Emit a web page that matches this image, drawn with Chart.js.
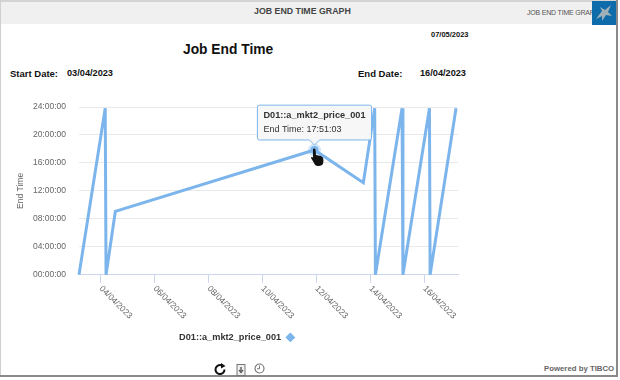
<!DOCTYPE html>
<html>
<head>
<meta charset="utf-8">
<title>Job End Time Graph</title>
<script src="https://cdn.jsdelivr.net/npm/chart.js@4/dist/chart.umd.min.js"></script>
<style>
html, body { margin: 0; padding: 0; background: #fff; overflow: hidden; }
body { width: 620px; height: 380px; position: relative; font-family: "Liberation Sans", Arial, sans-serif; color: #111; }
.t { position: absolute; white-space: nowrap; line-height: 1; }
.b { font-weight: bold; }
#header { position: absolute; left: 1px; top: 2px; width: 615px; height: 22px; background: #f0f0f0; }
#frameTop { position: absolute; left: 0; top: 0; width: 617px; height: 2px; background: #d4d4d4; }
#frameLeft { position: absolute; left: 0; top: 0; width: 1px; height: 377px; background: #cfcfcf; }
#frameRight { position: absolute; left: 616px; top: 0; width: 2px; height: 377px; background: #8a8a8a; }
#frameBottom { position: absolute; left: 0; top: 375px; width: 618px; height: 2px; background: #8a8a8a; }
#endTimeChart { position: absolute; left: 0; top: 0; }
svg { position: absolute; }
</style>
</head>
<body>
<div id="header"></div>
<div id="frameTop"></div>
<div id="frameLeft"></div>
<div id="frameRight"></div>
<div id="frameBottom"></div>

<div class="t b" style="left:254px;top:7px;font-size:8.8px;color:#444">JOB END TIME GRAPH</div>
<div class="t" style="left:527px;top:9px;font-size:7px;color:#555;letter-spacing:-0.2px">JOB END TIME GRAPH</div>
<svg style="left:592px;top:1px" width="24" height="24" viewBox="0 0 24 24">
	<rect width="24" height="24" fill="#0f6cab"/>
	<path d="M4 18 L10 10 L8 6 L13 9 L19 4 L16 11 L20 15 L14 14 L10 20 L10 15 Z" fill="#9fb0b8"/>
</svg>

<div class="t b" style="left:431px;top:31px;font-size:7.5px">07/05/2023</div>
<div class="t b" style="left:183px;top:43px;font-size:13.8px">Job End Time</div>
<div class="t b" style="left:10px;top:69px;font-size:9.5px">Start Date:</div>
<div class="t b" style="left:67px;top:69px;font-size:9.2px">03/04/2023</div>
<div class="t b" style="left:358px;top:69px;font-size:9.5px">End Date:</div>
<div class="t b" style="left:420px;top:69px;font-size:9.2px">16/04/2023</div>
<div class="t b" style="left:544px;top:365px;font-size:7.8px;color:#666">Powered by TIBCO</div>

<canvas id="endTimeChart" width="474" height="352"></canvas>

<svg style="left:213px;top:363px" width="14" height="13" viewBox="0 0 14 13">
	<path d="M11.5 6.5 A4.5 4.5 0 1 1 9.5 2.8" fill="none" stroke="#111" stroke-width="2"/>
	<path d="M8 0 L12.5 3 L8 5.5 Z" fill="#111"/>
</svg>
<svg style="left:236px;top:364px" width="10" height="12" viewBox="0 0 10 12">
	<rect x="1" y="0.5" width="8" height="11" fill="#eee" stroke="#777"/>
	<path d="M5 3 V7 M3 6 L5 8.5 L7 6" fill="none" stroke="#444" stroke-width="1.2"/>
</svg>
<svg style="left:254px;top:363px" width="11" height="11" viewBox="0 0 11 11">
	<circle cx="5.5" cy="5.5" r="4.5" fill="#fff" stroke="#777" stroke-width="1.2"/>
	<path d="M5.5 2.5 V5.8 H3" fill="none" stroke="#777"/>
</svg>
<svg style="left:310px;top:148px;z-index:5" width="15" height="19" viewBox="0 0 15 19">
	<path d="M3 1 Q4.5 0 5.5 1.5 L6 7 L11 8 Q13.5 9 13.5 12 L13 16 Q11 18.5 8 18 Q5 18 4 15 L1 10 Q1 8.5 3 9.5 Z" fill="#111"/>
</svg>

<script>
const seriesName = "D01::a_mkt2_price_001";
const endDates = ["2023-04-03T04:40", "2023-04-04T04:00", "2023-04-04T04:45", "2023-04-04T13:00", "2023-04-11T22:15", "2023-04-13T17:45", "2023-04-14T03:50", "2023-04-14T04:30", "2023-04-15T04:12", "2023-04-15T05:00", "2023-04-16T04:35", "2023-04-16T05:10", "2023-04-17T04:15"];
const endTimes = ["00:00:00", "23:50:00", "00:00:00", "09:04:00", "17:51:03", "13:10:00", "23:50:00", "00:00:00", "23:50:00", "00:00:00", "23:50:00", "00:00:00", "23:50:00"];
const xTickDates = ["2023-04-04", "2023-04-06", "2023-04-08", "2023-04-10", "2023-04-12", "2023-04-14", "2023-04-16"];
const yTickHours = [0, 4, 8, 12, 16, 20, 24];
const xAxisEnd = "2023-04-17T06:00";
const hoveredIndex = 4;

const toMs = (s) => Date.parse(s + (s.length > 10 ? ":00Z" : "T00:00:00Z"));
const toSeconds = (s) => {
	const p = s.split(":").map(Number);
	return p[0] * 3600 + p[1] * 60 + p[2];
};
const pad = (n) => String(n).padStart(2, "0");
const dateLabel = (ms) => {
	const d = new Date(ms);
	return `${pad(d.getUTCDate())}/${pad(d.getUTCMonth() + 1)}/${d.getUTCFullYear()}`;
};
const lineColor = "#7cb5ec";

const chart = new Chart(document.getElementById("endTimeChart"), {
	type: "line",
	data: {
		datasets: [{
			label: seriesName,
			data: endDates.map((d, i) => ({ x: toMs(d), y: toSeconds(endTimes[i]) })),
			borderColor: lineColor,
			backgroundColor: lineColor,
			borderWidth: 3,
			tension: 0,
			clip: false,
			pointRadius: 0,
			pointHoverRadius: 4,
			pointHoverBackgroundColor: lineColor,
			pointHoverBorderColor: "rgba(124,181,236,0.35)",
			pointHoverBorderWidth: 5
		}]
	},
	options: {
		responsive: false,
		maintainAspectRatio: false,
		animation: false,
		events: [],
		layout: { padding: { left: 16, top: 107, right: 16, bottom: 0 } },
		scales: {
			x: {
				type: "linear",
				min: toMs(endDates[0]),
				max: toMs(xAxisEnd),
				afterDataLimits: (scale) => {
					scale._getXAxisLabelAlignment = () => "left";
				},
				afterBuildTicks: (scale) => {
					scale.ticks = xTickDates.map((d) => ({ value: toMs(d) }));
				},
				afterFit: (scale) => { scale.height = 49; },
				border: { color: "#ccd6eb", width: 1 },
				grid: { drawOnChartArea: false, drawTicks: true, tickLength: 8, tickColor: "#ccd6eb" },
				ticks: {
					autoSkip: false,
					minRotation: -45,
					maxRotation: -45,
					padding: 1,
					color: "#666",
					font: { family: "Liberation Sans", size: 8.5 },
					callback: (v) => dateLabel(v)
				}
			},
			y: {
				min: 0,
				max: 86400,
				afterBuildTicks: (scale) => {
					scale.ticks = yTickHours.map((h) => ({ value: h * 3600 }));
				},
				afterFit: (scale) => { scale.width = 63; },
				border: { display: false },
				grid: { color: "#e9e9e9", drawTicks: false },
				title: {
					display: true,
					text: "End Time",
					color: "#666",
					font: { family: "Liberation Sans", size: 8.5 },
					padding: 0
				},
				ticks: {
					padding: 13,
					color: "#666",
					font: { family: "Liberation Sans", size: 8.5 },
					callback: (v) => `${pad(v / 3600)}:00:00`
				}
			}
		},
		plugins: {
			title: { display: false },
			legend: {
				position: "bottom",
				rtl: true,
				textDirection: "ltr",
				labels: {
					usePointStyle: true,
					pointStyle: "rectRot",
					boxHeight: 4,
					color: "#333",
					padding: 9,
					font: { family: "Liberation Sans", size: 9.2, weight: "bold" }
				}
			},
			tooltip: {
				enabled: true,
				backgroundColor: "rgba(247,247,247,0.95)",
				borderColor: lineColor,
				borderWidth: 1,
				cornerRadius: 2,
				caretSize: 5,
				caretPadding: 5,
				displayColors: false,
				padding: { x: 6, y: 5 },
				xAlign: "center",
				yAlign: "bottom",
				titleColor: "#333",
				bodyColor: "#333",
				titleFont: { family: "Liberation Sans", size: 9.2, weight: "bold" },
				bodyFont: { family: "Liberation Sans", size: 9 },
				titleMarginBottom: 3,
				callbacks: {
					title: (items) => items[0].dataset.label,
					label: (item) => `End Time: ${endTimes[item.dataIndex]}`
				}
			}
		}
	}
});

const active = [{ datasetIndex: 0, index: hoveredIndex }];
chart.setActiveElements(active);
chart.tooltip.setActiveElements(active, { x: 0, y: 0 });
chart.update();
</script>
</body>
</html>
